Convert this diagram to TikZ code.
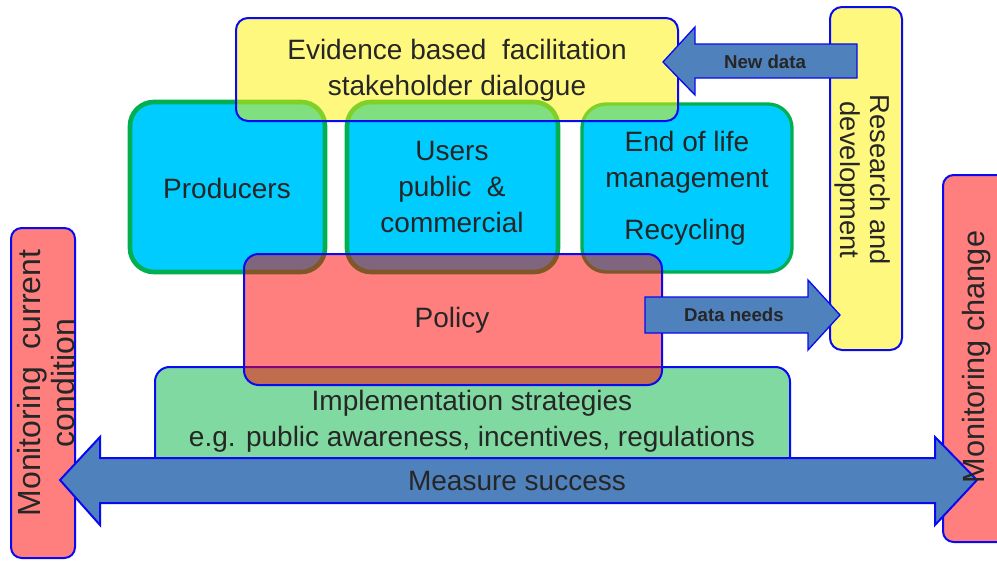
\documentclass[tikz,border=0pt]{standalone}
\usepackage{fontspec}
\setmainfont{Liberation Sans}
\definecolor{cyanfill}{RGB}{0,204,255}
\definecolor{boxgreen}{RGB}{0,176,80}
\definecolor{edgeblue}{RGB}{10,10,240}
\definecolor{arrowblue}{RGB}{79,129,189}
\definecolor{implgreen}{RGB}{128,217,160}
\begin{document}
\begin{tikzpicture}[x=0.75pt,y=0.75pt,yscale=-1,xscale=1,
    halfbox/.style={draw=edgeblue,line width=1.5pt,fill opacity=0.5,draw opacity=1},
    actorbox/.style={draw=boxgreen,fill=cyanfill,line width=3.5pt,rounded corners=18pt},
    blockarrow/.style={fill=arrowblue,draw=edgeblue,line width=1pt,line join=miter},
    lbl/.style={align=center,inner sep=0.75pt,text=black!85,font=\fontsize{21}{27}\selectfont},
    arrlbl/.style={inner sep=0.75pt,text=black!85,font=\fontsize{14}{16}\selectfont\bfseries}]
    \useasboundingbox (0,0) rectangle (997,561);
    %Rounded Rect: implementation
    \draw [draw=edgeblue,fill=implgreen,line width=1.5pt,rounded corners=11pt] (155,470) -- (155,367) -- (790,367) -- (790,470) ;
    %Rounded Rect: producers, users, end of life
    \draw [actorbox] (130,102) rectangle (325,272) ;
    \draw [actorbox] (347,102) rectangle (558,272) ;
    \draw [actorbox,line width=2.5pt] (582,104) rectangle (792,272) ;
    %Rounded Rect: facilitation
    \draw [halfbox,fill=yellow,rounded corners=9pt] (236,18) rectangle (678,121) ;
    %Rounded Rect: policy
    \draw [halfbox,fill=red,rounded corners=11pt] (244,254) rectangle (662,385) ;
    %Rounded Rect: research
    \draw [halfbox,fill=yellow,rounded corners=9pt] (830,7) rectangle (902,350) ;
    %Right Arrow: new data
    \draw [blockarrow] (663,62) -- (695,27) -- (695,44) -- (857,44) -- (857,78) -- (695,78) -- (695,95) -- cycle ;
    %Right Arrow: data needs
    \draw [blockarrow] (645,297) -- (808,297) -- (808,280) -- (840,315) -- (808,350) -- (808,333) -- (645,333) -- cycle ;
    %Rounded Rect: monitoring
    \draw [halfbox,fill=red,rounded corners=8pt] (11,228) rectangle (75,558) ;
    \draw [halfbox,fill=red,rounded corners=8pt] (943,175) rectangle (1010,542) ;
    %Left-Right Arrow: measure success
    \draw [blockarrow,line width=1.5pt] (60,480) -- (100,437) -- (100,458) -- (935,458) -- (935,437) -- (977,480) -- (935,525) -- (935,503) -- (100,503) -- (100,525) -- cycle ;
    % Text Node
    \draw (457,70) node [lbl] (facil) {Evidence based\ \ facilitation\\stakeholder dialogue};
    % Text Node
    \draw (227,188) node [lbl] (prod) {Producers};
    % Text Node
    \draw (452,187) node [lbl] (users) {Users\\public\ \ \&\\commercial};
    % Text Node
    \draw (687,162) node [lbl] (eol) {End of life\\management};
    % Text Node
    \draw (685,232) node [lbl] (recyc) {Recycling};
    % Text Node
    \draw (452,320) node [lbl] (policy) {Policy};
    % Text Node
    \draw (472,421) node [lbl] (impl) {Implementation strategies\\e.g. public awareness, incentives, regulations};
    % Text Node
    \draw (517,481) node [lbl] (measure) {Measure success};
    % Text Node
    \draw (765,62) node [arrlbl] (newdata) {New data};
    % Text Node
    \draw (734,315) node [arrlbl] (dataneeds) {Data needs};
    % Text Node
    \draw (863,180) node [lbl,rotate=-90,font=\fontsize{20.5}{22.5}\selectfont] (research) {Research and\\development};
    % Text Node
    \draw (46,383) node [lbl,rotate=90,font=\fontsize{24}{25}\selectfont] (moncur) {Monitoring\ \ current\\condition};
    % Text Node
    \draw (977,357) node [lbl,rotate=90,font=\fontsize{23}{25}\selectfont] (monchg) {Monitoring change};
\end{tikzpicture}
\end{document}
